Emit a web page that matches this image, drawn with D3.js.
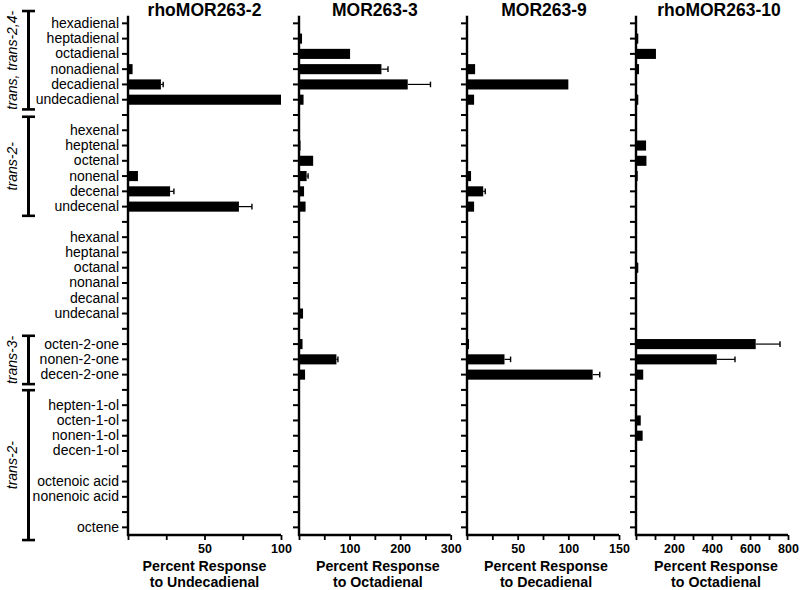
<!DOCTYPE html>
<html>
<head>
<meta charset="utf-8">
<script src="https://cdn.jsdelivr.net/npm/d3@7"></script>
<style>
  html, body { margin: 0; padding: 0; background: #fff; }
  svg { display: block; font-family: "Liberation Sans", Arial, Helvetica, sans-serif; }
</style>
</head>
<body>
<svg id="chart" width="800" height="590"></svg>
<script>
// ---------------- DATA ----------------
const categories = [
  "hexadienal","heptadienal","octadienal","nonadienal","decadienal","undecadienal",
  "hexenal","heptenal","octenal","nonenal","decenal","undecenal",
  "hexanal","heptanal","octanal","nonanal","decanal","undecanal",
  "octen-2-one","nonen-2-one","decen-2-one",
  "hepten-1-ol","octen-1-ol","nonen-1-ol","decen-1-ol",
  "octenoic acid","nonenoic acid",
  "octene"
];
// a blank row follows each of these categories
const gapAfter = ["undecadienal","undecenal","undecanal","decen-2-one","decen-1-ol","nonenoic acid"];

const panelTitles = ["rhoMOR263-2","MOR263-3","MOR263-9","rhoMOR263-10"];
const axisTitles1 = ["Percent Response","Percent Response","Percent Response","Percent Response"];
const axisTitles2 = ["to Undecadienal","to Octadienal","to Decadienal","to Octadienal"];
const domainsMax  = [100, 300, 150, 800];
const tickValues  = [[0,25,50,75,100],[0,50,100,150,200,250,300],[0,25,50,75,100,125,150],[0,100,200,300,400,500,600,700,800]];
const tickLabels  = [[50,100],[100,200,300],[50,100,150],[200,400,600,800]];

const meansP1 = [0,0,0,3,21.5,100, 0,0,0,6.5,27.5,72.5, 0,0,0,0,0,0, 0,0,0, 0,0,0,0, 0,0, 0];
const errsP1  = [0,0,0,0,1.5,0,    0,0,0,0,2.5,8.5,    0,0,0,0,0,0, 0,0,0, 0,0,0,0, 0,0, 0];
const meansP2 = [0,6,101,163,215,9, 2,3,28,15,10,13, 0,0,0,0,0,8, 7,74,12, 0,0,0,2, 0,0, 0];
const errsP2  = [0,0,0,13,45,0,     0,0,0,3,0,0,     0,0,0,0,0,0, 0,3,0,  0,0,0,0, 0,0, 0];
const meansP3 = [0,0,0,8,100,7, 0,0,0,4,16,7, 0,0,0,0,0,0, 2,37,124, 0,0,0,0, 0,0, 0];
const errsP3  = [0,0,0,0,0,0,   0,0,0,0,2,0,  0,0,0,0,0,0, 0,6,7,    0,0,0,0, 0,0, 0];
const meansP4 = [0,12,105,16,0,12, 0,53,55,9,0,0, 0,0,12,0,0,0, 630,425,38, 0,25,35,0, 0,0, 0];
const errsP4  = [0,0,0,0,0,0,      0,0,0,0,0,0,   0,0,0,0,0,0,  128,96,0,  0,0,0,0,  0,0, 0];
const panelMeans = [meansP1, meansP2, meansP3, meansP4];
const panelErrs  = [errsP1, errsP2, errsP3, errsP4];

const groupLabels = ["trans, trans-2,4-","trans-2-","trans-3-","trans-2-"];
const groupFirst  = ["hexadienal","hexenal","octen-2-one","hepten-1-ol"];
const groupLast   = ["undecadienal","undecenal","decen-2-one","octene"];

// ---------------- LAYOUT / STYLE ----------------
const panelRanges = [[128,281],[299,450.7],[467,619],[636,788]];
const titleShift = [0,0,1,7];
const axisTitleShift = [0,3,3,4];
const bracketPadTop = [12.3,13.5,8.3,15];
const bracketPadBottom = [9.7,9.2,9.5,12.7];
const plotTop = 15.7, plotBottom = 535;

const svg = d3.select("#chart");

// rows including blank separators
const rows = [];
categories.forEach(c => {
  rows.push({key: c, label: c});
  if (gapAfter.includes(c)) rows.push({key: "gap-" + c, label: ""});
});
const labelOf = new Map(rows.map(r => [r.key, r.label]));

const y = d3.scaleBand()
  .domain(rows.map(r => r.key))
  .range([plotTop, plotBottom])
  .paddingInner(0.34)
  .paddingOuter(0.17);
const yc = k => y(k) + y.bandwidth() / 2;

panelTitles.forEach((title, p) => {
  const [x0, x1] = panelRanges[p];
  const x = d3.scaleLinear().domain([0, domainsMax[p]]).range([x0, x1]);
  const g = svg.append("g");

  // bars
  const data = categories.map((c, i) => ({c, m: panelMeans[p][i], e: panelErrs[p][i]}));
  g.selectAll("rect.bar").data(data.filter(d => d.m > 0)).join("rect")
    .attr("class", "bar")
    .attr("x", x(0))
    .attr("y", d => y(d.c))
    .attr("width", d => x(d.m) - x(0))
    .attr("height", y.bandwidth())
    .attr("fill", "#000");

  // error bars
  const eb = data.filter(d => d.e > 0);
  g.selectAll("line.err").data(eb).join("line")
    .attr("x1", d => x(d.m)).attr("x2", d => x(d.m + d.e))
    .attr("y1", d => yc(d.c)).attr("y2", d => yc(d.c))
    .attr("stroke", "#000").attr("stroke-width", 1.2);
  g.selectAll("line.cap").data(eb).join("line")
    .attr("x1", d => x(d.m + d.e)).attr("x2", d => x(d.m + d.e))
    .attr("y1", d => yc(d.c) - 2.8).attr("y2", d => yc(d.c) + 2.8)
    .attr("stroke", "#000").attr("stroke-width", 1.4);

  // y axis
  const yAxis = d3.axisLeft(y)
    .tickSize(6).tickSizeOuter(0).tickPadding(3)
    .tickFormat(k => p === 0 ? labelOf.get(k) : "");
  const ya = g.append("g").attr("transform", `translate(${x0},0)`).call(yAxis);
  ya.select(".domain").attr("stroke", "#000").attr("stroke-width", 2.4)
    .attr("d", `M0,${plotTop}V${plotBottom + 1}`);
  ya.selectAll(".tick line").attr("stroke", "#000").attr("stroke-width", 2);
  ya.selectAll(".tick text").attr("font-size", "14px").attr("fill", "#000")
    .attr("font-family", '"Liberation Sans", Arial, sans-serif');

  // x axis
  const xAxis = d3.axisBottom(x)
    .tickValues(tickValues[p])
    .tickSize(5).tickSizeOuter(0).tickPadding(4.5)
    .tickFormat(v => tickLabels[p].includes(v) ? String(v) : "");
  const xa = g.append("g").attr("transform", `translate(0,${plotBottom})`).call(xAxis);
  xa.select(".domain").attr("stroke", "#000").attr("stroke-width", 2.4)
    .attr("d", `M${x0 - 1},0H${x1}`);
  xa.selectAll(".tick line").attr("stroke", "#000").attr("stroke-width", 1.8);
  xa.selectAll(".tick text").attr("font-size", "12.5px").attr("font-weight", "bold").attr("fill", "#000")
    .attr("font-family", '"Liberation Sans", Arial, sans-serif');

  // panel title
  const mid = (x0 + x1) / 2;
  svg.append("text")
    .attr("x", mid + titleShift[p]).attr("y", 16)
    .attr("text-anchor", "middle")
    .attr("font-size", "17.5px").attr("font-weight", "bold")
    .text(title);

  // axis title
  svg.append("text")
    .attr("x", mid + axisTitleShift[p]).attr("y", 570.5)
    .attr("text-anchor", "middle")
    .attr("font-size", "14.2px").attr("font-weight", "bold")
    .text(axisTitles1[p]);
  svg.append("text")
    .attr("x", mid + axisTitleShift[p]).attr("y", 587)
    .attr("text-anchor", "middle")
    .attr("font-size", "14.2px").attr("font-weight", "bold")
    .text(axisTitles2[p]);
});

// group brackets
groupLabels.forEach((lab, i) => {
  const top = yc(groupFirst[i]) - bracketPadTop[i];
  const bot = yc(groupLast[i]) + bracketPadBottom[i];
  const bx = 28.5;
  const gb = svg.append("g").attr("stroke", "#000");
  gb.append("line").attr("x1", bx).attr("x2", bx).attr("y1", top).attr("y2", bot).attr("stroke-width", 3);
  gb.append("line").attr("x1", bx - 6.5).attr("x2", bx + 6.5).attr("y1", top).attr("y2", top).attr("stroke-width", 2.6);
  gb.append("line").attr("x1", bx - 6.5).attr("x2", bx + 6.5).attr("y1", bot).attr("y2", bot).attr("stroke-width", 2.6);
  const cy = (top + bot) / 2;
  svg.append("text")
    .attr("transform", `translate(16.5,${cy}) rotate(-90)`)
    .attr("text-anchor", "middle")
    .attr("font-size", "14px").attr("font-style", "italic")
    .text(lab);
});
</script>
</body>
</html>
